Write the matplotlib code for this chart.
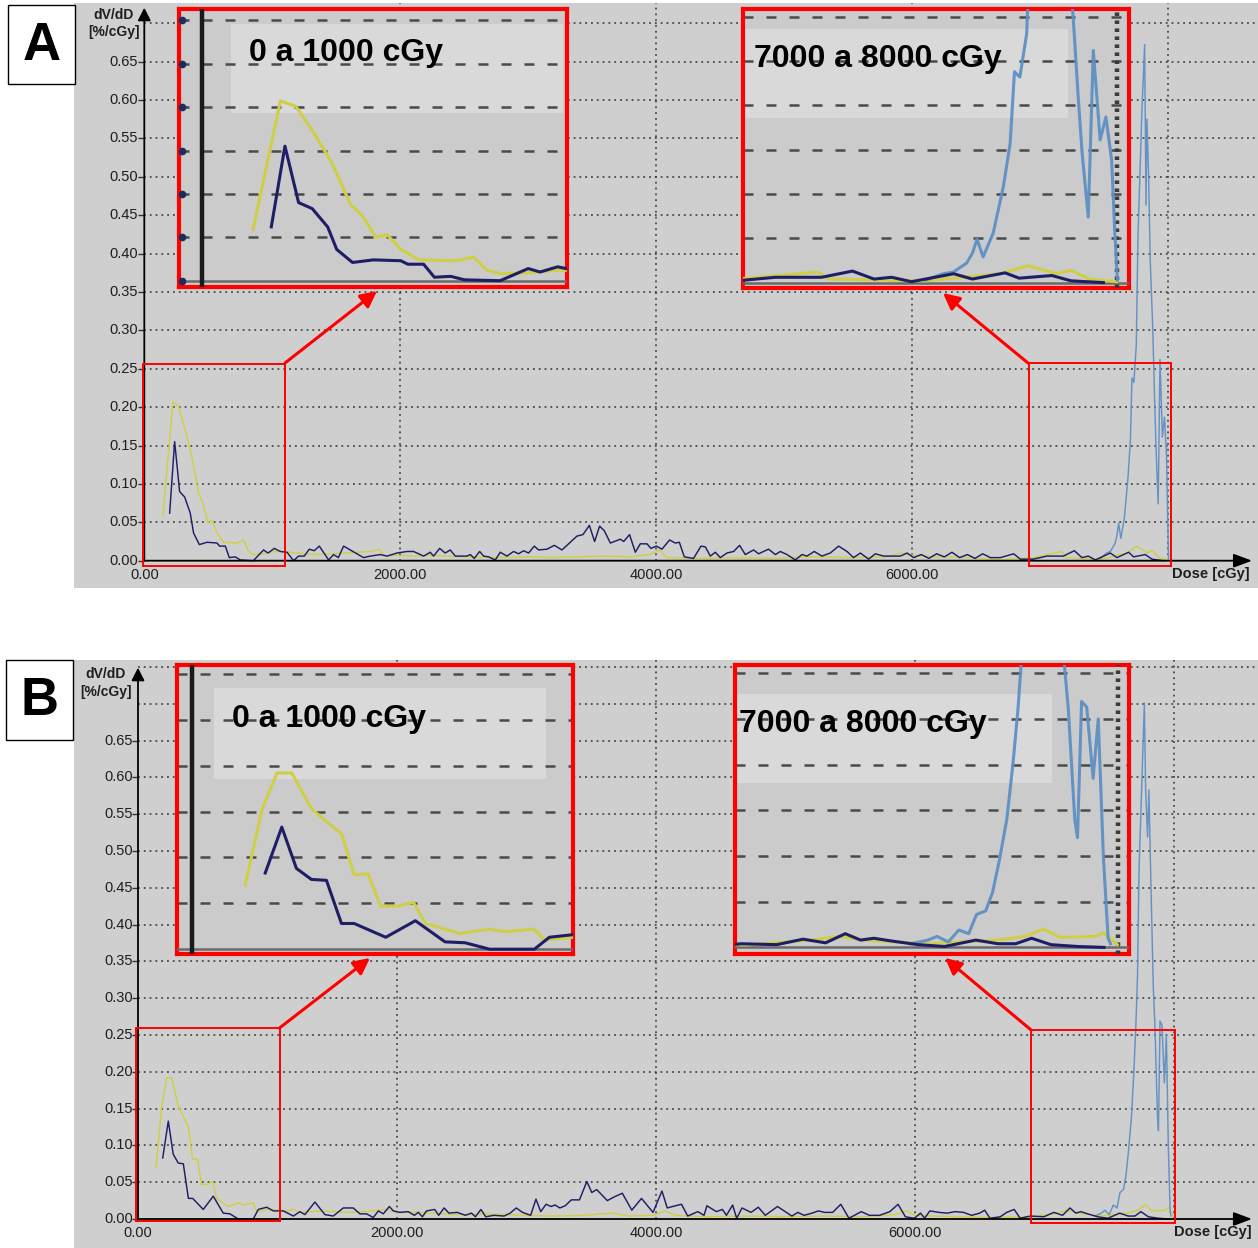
import numpy as np
import matplotlib
matplotlib.use('Agg')
import matplotlib.pyplot as plt
from matplotlib.patches import Rectangle

plt.rcParams['font.family'] = ['Liberation Sans', 'DejaVu Sans']

W, H = 1258, 1248

# ---------------- data: dose [cGy] and dV/dD [%/cGy] ----------------
# panel A
a_navy_dose = [198, 237, 276, 315, 359, 385, 430, 490, 568, 588, 633, 664, 711, 750, 852, 932, 966,
               1016, 1063, 1115, 1166, 1205, 1250, 1289, 1328, 1367, 1440, 1479, 1516, 1557, 1609,
               1713, 1766, 1844, 1896, 1974, 2052, 2104, 2182, 2234, 2260, 2307, 2351, 2390, 2430,
               2521, 2547, 2578, 2620, 2651, 2690, 2742, 2781, 2833, 2885, 2924, 2963, 3002, 3047,
               3080, 3146, 3203, 3263, 3315, 3380, 3427, 3477, 3518, 3557, 3594, 3641, 3719, 3745,
               3791, 3836, 3875, 3927, 3958, 4000, 4044, 4104, 4148, 4180, 4219, 4291, 4349, 4383,
               4422, 4461, 4500, 4552, 4604, 4651, 4695, 4760, 4799, 4877, 4930, 4969, 5021, 5086,
               5138, 5177, 5234, 5294, 5359, 5424, 5490, 5541, 5594, 5659, 5711, 5776, 5854, 5906,
               5960, 6010, 6070, 6130, 6190, 6250, 6310, 6370, 6430, 6490, 6550, 6610, 6688, 6792,
               6844, 6945, 7052, 7180, 7266, 7326, 7375, 7430, 7547, 7599, 7690, 7729, 7820, 7873, 7963]
a_navy_val = [0.062, 0.155, 0.090, 0.083, 0.062, 0.036, 0.021, 0.024, 0.023, 0.019, 0.019, 0.004,
              0.005, 0.001, 0.000, 0.014, 0.010, 0.016, 0.012, 0.011, 0.000, 0.006, 0.006, 0.015,
              0.013, 0.019, 0.001, 0.008, 0.004, 0.019, 0.014, 0.004, 0.006, 0.008, 0.006, 0.010,
              0.012, 0.012, 0.006, 0.011, 0.006, 0.016, 0.010, 0.014, 0.006, 0.006, 0.008, 0.003,
              0.012, 0.006, 0.005, 0.001, 0.011, 0.006, 0.012, 0.009, 0.013, 0.010, 0.019, 0.014,
              0.015, 0.020, 0.014, 0.022, 0.032, 0.034, 0.046, 0.025, 0.045, 0.039, 0.023, 0.028,
              0.025, 0.034, 0.011, 0.022, 0.022, 0.016, 0.019, 0.015, 0.027, 0.023, 0.024, 0.005,
              0.003, 0.019, 0.018, 0.006, 0.011, 0.004, 0.010, 0.012, 0.020, 0.008, 0.014, 0.009,
              0.015, 0.008, 0.012, 0.008, 0.001, 0.008, 0.006, 0.012, 0.006, 0.010, 0.019, 0.012,
              0.004, 0.010, 0.002, 0.009, 0.006, 0.006, 0.006, 0.010, 0.004, 0.008, 0.003, 0.009,
              0.005, 0.011, 0.004, 0.008, 0.003, 0.009, 0.004, 0.004, 0.009, 0.002, 0.002, 0.006,
              0.006, 0.013, 0.004, 0.006, 0.001, 0.010, 0.004, 0.011, 0.005, 0.008, 0.002, 0.000]
a_yellow_dose = [146, 224, 268, 320, 372, 424, 458, 497, 529, 568, 620, 724, 776, 815, 854, 932, 1010,
                 1088, 1193, 1323, 1453, 1583, 1766, 1838, 1870, 1974, 2104, 2234, 2495, 2755, 3000,
                 3200, 3400, 3600, 3800, 3950, 4026, 4080, 4300, 4600, 4900, 5200, 5500, 5800, 5906,
                 6000, 6200, 6450, 6688, 6945, 7170, 7200, 7470, 7677, 7755, 7833, 7873, 7924, 8000]
a_yellow_val = [0.059, 0.207, 0.201, 0.170, 0.135, 0.088, 0.075, 0.050, 0.053, 0.036, 0.024, 0.023,
                0.027, 0.012, 0.008, 0.009, 0.012, 0.012, 0.010, 0.008, 0.009, 0.010, 0.012, 0.015,
                0.006, 0.007, 0.006, 0.007, 0.005, 0.004, 0.005, 0.004, 0.005, 0.006, 0.005, 0.008,
                0.014, 0.004, 0.003, 0.004, 0.003, 0.005, 0.004, 0.005, 0.010, 0.007, 0.005, 0.004,
                0.001, 0.004, 0.012, 0.004, 0.002, 0.010, 0.019, 0.010, 0.014, 0.004, 0.001]
a_steel_dose = [7470, 7518, 7547, 7583, 7599, 7612, 7629, 7657, 7685, 7704, 7716, 7731, 7750, 7763,
                7794, 7815, 7826, 7833, 7846, 7859, 7879, 7893, 7904, 7921, 7935, 7954, 7970, 7986,
                7994, 8002]
a_steel_val = [0.003, 0.010, 0.012, 0.022, 0.033, 0.049, 0.029, 0.056, 0.108, 0.157, 0.238, 0.232,
               0.281, 0.422, 0.586, 0.672, 0.463, 0.575, 0.503, 0.391, 0.300, 0.210, 0.146, 0.074,
               0.262, 0.161, 0.187, 0.138, 0.063, 0.003]

# panel B
b_navy_dose = [191, 234, 272, 311, 350, 389, 422, 504, 581, 658, 710, 774, 890, 929, 994, 1045, 1122,
               1200, 1250, 1289, 1366, 1443, 1508, 1585, 1662, 1714, 1765, 1817, 1856, 1894, 1941,
               1972, 2023, 2086, 2134, 2165, 2196, 2228, 2291, 2322, 2364, 2401, 2465, 2528, 2575,
               2606, 2648, 2685, 2748, 2827, 2874, 2921, 2969, 3032, 3073, 3110, 3151, 3189, 3220,
               3258, 3299, 3346, 3409, 3466, 3504, 3542, 3624, 3677, 3740, 3813, 3888, 3977, 4046,
               4087, 4128, 4197, 4245, 4323, 4371, 4393, 4466, 4513, 4544, 4592, 4623, 4664, 4734,
               4790, 4844, 4938, 5049, 5096, 5143, 5206, 5254, 5301, 5364, 5427, 5490, 5585, 5648,
               5727, 5806, 5869, 5926, 5995, 6043, 6074, 6115, 6185, 6248, 6311, 6374, 6437, 6500,
               6538, 6579, 6658, 6708, 6766, 6812, 6891, 6995, 7073, 7139, 7197, 7242, 7281, 7333,
               7411, 7489, 7581, 7646, 7698, 7745, 7802, 7880, 7958]
b_navy_val = [0.083, 0.133, 0.088, 0.076, 0.075, 0.028, 0.028, 0.013, 0.031, 0.008, 0.007, 0.000,
              0.000, 0.013, 0.016, 0.011, 0.011, 0.004, 0.010, 0.006, 0.023, 0.006, 0.004, 0.015,
              0.015, 0.007, 0.007, 0.002, 0.011, 0.007, 0.017, 0.011, 0.009, 0.010, 0.005, 0.009,
              0.003, 0.011, 0.013, 0.005, 0.015, 0.008, 0.009, 0.005, 0.008, 0.003, 0.013, 0.003,
              0.005, 0.004, 0.008, 0.015, 0.009, 0.005, 0.027, 0.010, 0.020, 0.017, 0.019, 0.015,
              0.018, 0.026, 0.026, 0.051, 0.036, 0.040, 0.025, 0.030, 0.035, 0.012, 0.028, 0.009,
              0.038, 0.015, 0.017, 0.020, 0.004, 0.010, 0.005, 0.018, 0.010, 0.013, 0.005, 0.019,
              0.001, 0.015, 0.009, 0.016, 0.005, 0.017, 0.004, 0.009, 0.005, 0.008, 0.011, 0.009,
              0.009, 0.020, 0.001, 0.010, 0.005, 0.005, 0.010, 0.020, 0.003, 0.001, 0.008, 0.001,
              0.011, 0.009, 0.008, 0.010, 0.009, 0.005, 0.008, 0.012, 0.001, 0.003, 0.009, 0.013,
              0.001, 0.004, 0.003, 0.009, 0.005, 0.015, 0.008, 0.010, 0.007, 0.003, 0.001, 0.008,
              0.004, 0.004, 0.010, 0.003, 0.001, 0.000]
b_yellow_dose = [139, 183, 222, 260, 311, 350, 389, 422, 458, 491, 535, 576, 607, 697, 774, 813, 890,
                 916, 994, 1148, 1200, 1250, 1405, 1662, 1920, 1997, 2177, 2434, 2692, 2950, 3200,
                 3450, 3660, 3800, 3980, 4071, 4150, 4400, 4700, 5000, 5300, 5600, 5850, 5932, 6000,
                 6300, 6600, 6917, 7099, 7177, 7255, 7437, 7646, 7724, 7781, 7828, 7932, 7958, 7997]
b_yellow_val = [0.070, 0.153, 0.192, 0.192, 0.153, 0.139, 0.126, 0.081, 0.082, 0.047, 0.047, 0.051,
                0.028, 0.017, 0.022, 0.019, 0.022, 0.010, 0.013, 0.011, 0.013, 0.009, 0.011, 0.009,
                0.013, 0.009, 0.009, 0.006, 0.007, 0.005, 0.004, 0.005, 0.008, 0.004, 0.005, 0.011,
                0.005, 0.003, 0.004, 0.003, 0.004, 0.003, 0.006, 0.011, 0.005, 0.003, 0.002, 0.003,
                0.008, 0.012, 0.008, 0.004, 0.008, 0.012, 0.020, 0.011, 0.012, 0.016, 0.003]
b_steel_dose = [7390, 7440, 7467, 7500, 7531, 7560, 7583, 7610, 7630, 7650, 7672, 7690, 7705, 7718,
                7730, 7750, 7771, 7781, 7796, 7806, 7822, 7840, 7853, 7872, 7880, 7892, 7907, 7926,
                7941, 7956, 7970, 7977]
b_steel_val = [0.004, 0.008, 0.012, 0.006, 0.019, 0.015, 0.036, 0.040, 0.060, 0.095, 0.140, 0.200,
               0.261, 0.330, 0.476, 0.583, 0.701, 0.583, 0.519, 0.583, 0.454, 0.315, 0.261, 0.140,
               0.120, 0.269, 0.263, 0.185, 0.250, 0.100, 0.010, 0.004]

y_ticks = [0.00, 0.05, 0.10, 0.15, 0.20, 0.25, 0.30, 0.35, 0.40, 0.45, 0.50, 0.55, 0.60, 0.65]
x_ticks = [0, 2000, 4000, 6000]
x_grid = [2000, 4000, 6000, 8000]
inset_grid = [0.05, 0.10, 0.15, 0.20, 0.25, 0.30]

BG = '#cfcfcf'
IN_BG = '#cbcbcb'
YELLOW = '#cfcf45'
NAVY = '#1e1e66'
STEEL = '#5e8fc4'
TXT = '#1f1f1f'


def px_rect(x0, y0, x1, y1):
    return [x0 / W, 1 - y1 / H, (x1 - x0) / W, (y1 - y0) / H]


fig = plt.figure(figsize=(W / 100, H / 100), dpi=100)
fig.patch.set_facecolor('white')

# overlay in figure pixels (y downwards) for frames, arrows and labels
ov = fig.add_axes([0, 0, 1, 1], zorder=10)
ov.set_xlim(0, W)
ov.set_ylim(H, 0)
ov.axis('off')
ov.patch.set_alpha(0)


def plot_series(ax, series, lw):
    (yd, yv), (sd, sv), (nd, nv) = series
    ax.plot(yd, yv, color=YELLOW, lw=lw, zorder=4)
    ax.plot(sd, sv, color=STEEL, lw=lw, zorder=4.5, alpha=0.95)
    ax.plot(nd, nv, color=NAVY, lw=lw, zorder=5)


def main_panel(box, origin, sx, sy, series, y_arrow, x_arrow, grid_vals, lab_off):
    x0, y0, x1, y1 = box
    ox, oy = origin
    ax = fig.add_axes(px_rect(*box), zorder=1)
    ax.set_xlim((x0 - ox) / sx, (x1 - ox) / sx)
    ax.set_ylim((oy - y1) / sy, (oy - y0) / sy)
    ax.set_facecolor(BG)
    for s in ax.spines.values():
        s.set_visible(False)
    ax.set_xticks([])
    ax.set_yticks([])
    top = ax.get_ylim()[1]
    right = ax.get_xlim()[1]

    # dotted grid
    ax.hlines(grid_vals, 0, right, colors='#333333', linestyles=(0, (1.2, 2.6)), lw=1.1, zorder=2)
    ax.vlines(x_grid, 0, top, colors='#333333', linestyles=(0, (1.2, 2.6)), lw=1.1, zorder=2)

    plot_series(ax, series, 1.05)

    # axes with arrows
    ax.annotate('', xy=(0, y_arrow), xytext=(0, 0),
                arrowprops=dict(arrowstyle='-|>,head_length=0.55,head_width=0.28', color='black',
                                lw=1.3, shrinkA=0, shrinkB=0, mutation_scale=14), zorder=6)
    ax.annotate('', xy=(x_arrow, 0), xytext=(0, 0),
                arrowprops=dict(arrowstyle='-|>,head_length=0.8,head_width=0.3', color='black',
                                lw=1.3, shrinkA=0, shrinkB=0, mutation_scale=14), zorder=6)

    ax.plot(np.zeros(len(y_ticks)), y_ticks, ls='none', marker=0, ms=4, mew=1, color='#333333')
    for v in y_ticks:
        ax.annotate(f'{v:.2f}', xy=(0, v), xytext=(-lab_off, 0), textcoords='offset pixels',
                    ha='right', va='center', fontsize=10.5, color=TXT)
    for d in x_ticks:
        ax.annotate(f'{d:.2f}', xy=(d, 0), xytext=(0, -14), textcoords='offset pixels',
                    ha='center', va='center', fontsize=10.5, color=TXT)
    return ax


def inset_panel(box, origin, sx, sy, series, yaxis, textbox, text_xy, text):
    x0, y0, x1, y1 = box
    ox, oy = origin
    ax = fig.add_axes(px_rect(*box), zorder=5)
    ax.set_xlim((x0 - ox) / sx, (x1 - ox) / sx)
    ax.set_ylim((oy - y1) / sy, (oy - y0) / sy)
    ax.set_facecolor(IN_BG)
    ax.set_xticks([])
    ax.set_yticks([])
    for s in ax.spines.values():
        s.set_color('#ff0000')
        s.set_linewidth(3.0)
    left, right = ax.get_xlim()
    bottom, top = ax.get_ylim()

    bx0, by0, bx1, by1 = textbox
    ax.add_patch(Rectangle((bx0, by0), bx1 - bx0, by1 - by0, transform=ov.transData,
                           facecolor='#d9d9d9', edgecolor='none', zorder=1))
    ax.hlines(inset_grid, left, right, colors='#4a4a4a', linestyles=(0, (4, 5.2)), lw=1.8, zorder=2)
    ax.text(text_xy[0], text_xy[1], text, transform=ov.transData, fontsize=23,
            fontweight='bold', ha='left', va='center', color='black', zorder=3)
    ax.axhline(0, color='#6a6a6a', lw=1.8, zorder=3)

    if yaxis == 'solid':
        ax.vlines(0, bottom, top, colors='#1a1a1a', lw=3.2, zorder=6)
    else:
        ax.vlines(8000, bottom, top, colors='#3a3a3a', linestyles=(0, (0.8, 1.0)), lw=3.2, zorder=3)

    plot_series(ax, series, 2.2)
    return ax


series_a = ((a_yellow_dose, a_yellow_val), (a_steel_dose, a_steel_val), (a_navy_dose, a_navy_val))
series_b = ((b_yellow_dose, b_yellow_val), (b_steel_dose, b_steel_val), (b_navy_dose, b_navy_val))

grid_a = [0.05 * k for k in range(1, 15)]
grid_b = [0.05 * k for k in range(1, 16)]

# ---- panel A ----
main_panel((74, 3, 1258, 588), (144.3, 560.7), 0.128, 768, series_a,
           y_arrow=0.72, x_arrow=8654, grid_vals=grid_a, lab_off=6)
ax_al = inset_panel((179, 9, 567, 287), (202, 280.7), 0.35, 868, series_a, 'solid',
                    (231, 24, 563, 113), (249, 53), '0 a 1000 cGy')
ax_al.plot(np.full(7, -57.0), [0] + inset_grid, ls='none', marker='o', ms=4.5,
           color='#1c2d5c', zorder=7, clip_on=False)
inset_panel((743, 9, 1129, 288), (1116.7 - 8000 * 0.36, 282.6), 0.36, 886, series_a, 'dotted',
            (745, 29, 1068, 118), (754, 59), '7000 a 8000 cGy')

# ---- panel B ----
main_panel((74, 660, 1258, 1248), (138, 1219), 0.1295, 736, series_b,
           y_arrow=0.749, x_arrow=8602, grid_vals=grid_b, lab_off=5)
inset_panel((177, 665, 573, 954), (191.7, 949.2), 0.385, 918, series_b, 'solid',
            (214, 688, 546, 779), (232, 719), '0 a 1000 cGy')
inset_panel((735, 665, 1129, 954), (1118.3 - 8000 * 0.34, 947.4), 0.34, 914, series_b, 'dotted',
            (737, 694, 1052, 783), (739, 724), '7000 a 8000 cGy')

# ---- overlay: axis titles, zoom boxes, arrows, panel letters ----
for cx, y_top, y_bot, x_dose, y_dose in [(114, 15, 32, 1250, 574), (106, 674, 692, 1252, 1232)]:
    ov.text(cx, y_top, 'dV/dD', ha='center', va='center', fontsize=10, fontweight='bold', color=TXT)
    ov.text(cx, y_bot, '[%/cGy]', ha='center', va='center', fontsize=10, fontweight='bold', color=TXT)
    ov.text(x_dose, y_dose, 'Dose [cGy]', ha='right', va='center', fontsize=10.5,
            fontweight='bold', color=TXT)

for (x0, y0, x1, y1) in [(142.5, 363.5, 285, 565.5), (1028.5, 363, 1171, 565.5),
                         (136, 1028, 279.5, 1221), (1030.5, 1029.5, 1174.5, 1223)]:
    ov.add_patch(Rectangle((x0, y0), x1 - x0, y1 - y0, fill=False, edgecolor='#ff0000', lw=1.4))

for start, end in [((285, 363), (377, 291)), ((1028, 363), (943, 293)),
                   ((279.5, 1028), (370, 958)), ((1030.5, 1029.5), (945, 958))]:
    ov.annotate('', xy=end, xytext=start,
                arrowprops=dict(arrowstyle='-|>,head_length=0.7,head_width=0.35', color='#ff0000',
                                lw=2.2, shrinkA=0, shrinkB=0, mutation_scale=14))

for (x0, y0, x1, y1), letter in [((8, 5, 75, 84), 'A'), ((6, 660, 73, 740), 'B')]:
    ov.add_patch(Rectangle((x0, y0), x1 - x0, y1 - y0, facecolor='white', edgecolor='black', lw=1.0))
    ov.text((x0 + x1) / 2, (y0 + y1) / 2 + 1, letter, ha='center', va='center', fontsize=38,
            fontweight='bold', color='black')

fig.savefig('out.png', dpi=100)
